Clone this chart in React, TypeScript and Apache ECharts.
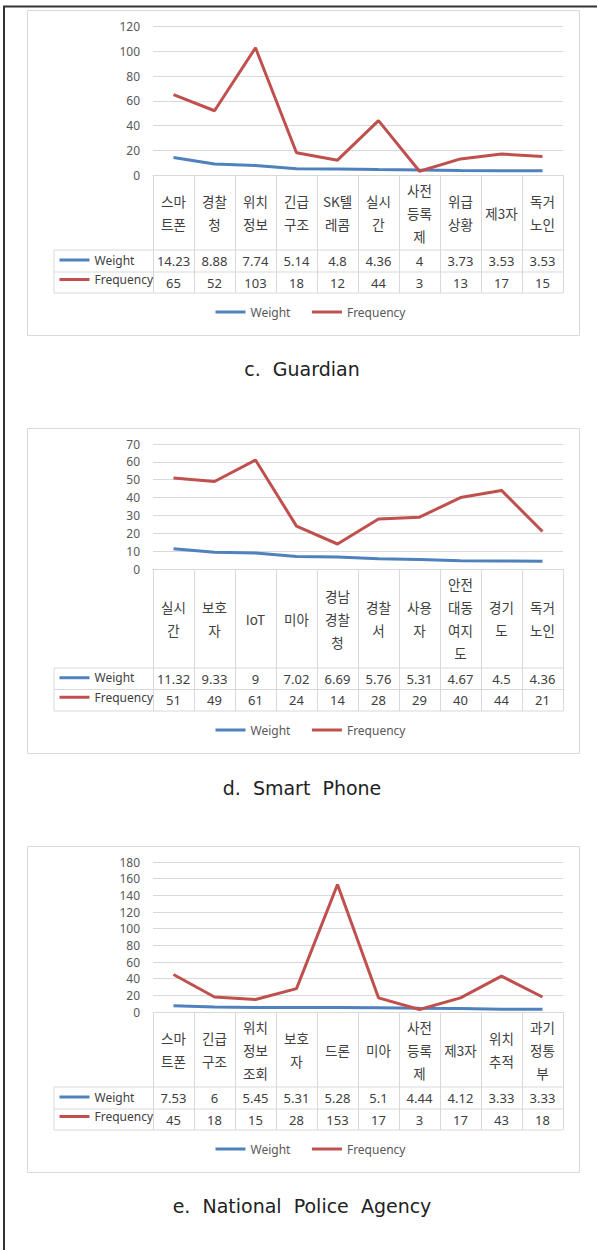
import React, { useEffect, useRef } from "react";
import * as echarts from "echarts";

// ---------- data ----------
const guardianCategories = ["스마트폰", "경찰청", "위치정보", "긴급구조", "SK텔레콤", "실시간", "사전등록제", "위급상황", "제3자", "독거노인"];
const guardianWeight = [14.23, 8.88, 7.74, 5.14, 4.8, 4.36, 4, 3.73, 3.53, 3.53];
const guardianFrequency = [65, 52, 103, 18, 12, 44, 3, 13, 17, 15];

const phoneCategories = ["실시간", "보호자", "IoT", "미아", "경남경찰청", "경찰서", "사용자", "안전대동여지도", "경기도", "독거노인"];
const phoneWeight = [11.32, 9.33, 9, 7.02, 6.69, 5.76, 5.31, 4.67, 4.5, 4.36];
const phoneFrequency = [51, 49, 61, 24, 14, 28, 29, 40, 44, 21];

const policeCategories = ["스마트폰", "긴급구조", "위치정보조회", "보호자", "드론", "미아", "사전등록제", "제3자", "위치추적", "과기정통부"];
const policeWeight = [7.53, 6, 5.45, 5.31, 5.28, 5.1, 4.44, 4.12, 3.33, 3.33];
const policeFrequency = [45, 18, 15, 28, 153, 17, 3, 17, 43, 18];

const yMaxes = [120, 70, 180];
const yIntervals = [20, 10, 20];
const captions = ["c.  Guardian", "d.  Smart  Phone", "e.  National  Police  Agency"];
const seriesNames = ["Weight", "Frequency"];

// ---------- layout ----------
const layouts = [
  { boxTop: 10, boxBottom: 335, gridTop: 26.7, gridBottom: 175, catBottom: 250, wBottom: 272, fBottom: 293, legendY: 313, captionY: 369 },
  { boxTop: 428, boxBottom: 753, gridTop: 444, gridBottom: 569, catBottom: 668, wBottom: 689.5, fBottom: 711, legendY: 731, captionY: 788 },
  { boxTop: 846, boxBottom: 1172, gridTop: 862, gridBottom: 1012, catBottom: 1087, wBottom: 1109, fBottom: 1130, legendY: 1150, captionY: 1206 },
];
const PLOT_LEFT = 153;
const PLOT_RIGHT = 563;
const TABLE_LEFT = 54;
const BLUE = "#4F81BD";
const RED = "#C0504D";
const GRID_COLOR = "#d9d9d9";
const TEXT = "#404040";
const CJK = "'Noto Sans CJK KR', 'Noto Sans', sans-serif";
const LATIN = "'Noto Sans', 'Noto Sans CJK KR', sans-serif";
const CAPTION_FONT = "'DejaVu Sans', 'Noto Sans', sans-serif";

function wrapLabel(s: string): string {
  const maxW = 34;
  const lines: string[] = [];
  let line = "";
  let w = 0;
  for (const ch of s) {
    const cw = /[\u3131-\uD7A3]/.test(ch) ? 13 : 8;
    if (w + cw > maxW && line) {
      lines.push(line);
      line = "";
      w = 0;
    }
    line += ch;
    w += cw;
  }
  lines.push(line);
  return lines.join("\n");
}

export default function App() {
  const ref = useRef<HTMLDivElement>(null);

  useEffect(() => {
    if (!ref.current) return;
    const chart = echarts.init(ref.current, undefined, { renderer: "svg" });

    const panels = [
      { cats: guardianCategories, weight: guardianWeight, freq: guardianFrequency },
      { cats: phoneCategories, weight: phoneWeight, freq: phoneFrequency },
      { cats: policeCategories, weight: policeWeight, freq: policeFrequency },
    ];

    const grid: any[] = [];
    const xAxis: any[] = [];
    const yAxis: any[] = [];
    const series: any[] = [];
    const legend: any[] = [];
    const graphic: any[] = [];

    // outer frame
    graphic.push({ type: "line", shape: { x1: 4, y1: 6, x2: 4, y2: 1250 }, style: { stroke: "#333", lineWidth: 2 } });
    graphic.push({ type: "line", shape: { x1: 3, y1: 6.5, x2: 597, y2: 6.5 }, style: { stroke: "#333", lineWidth: 2 } });

    panels.forEach((p, i) => {
      const L = layouts[i];
      grid.push({ left: PLOT_LEFT, width: PLOT_RIGHT - PLOT_LEFT, top: L.gridTop, height: L.gridBottom - L.gridTop, containLabel: false });

      const catH = L.catBottom - L.gridBottom;
      const wCenter = (L.catBottom + L.wBottom) / 2;
      const fCenter = (L.wBottom + L.fBottom) / 2;

      xAxis.push({
        gridIndex: i,
        type: "category",
        position: "bottom",
        data: p.cats,
        boundaryGap: true,
        axisLine: { show: true, lineStyle: { color: GRID_COLOR, width: 1 } },
        axisTick: { show: true, alignWithLabel: false, interval: 0, length: L.fBottom - L.gridBottom, lineStyle: { color: GRID_COLOR, width: 1 } },
        axisLabel: {
          interval: 0,
          margin: catH / 2,
          verticalAlign: "middle",
          lineHeight: 23,
          fontSize: 13.5,
          fontFamily: CJK,
          color: TEXT,
          formatter: (v: string) => wrapLabel(v),
        },
        splitLine: { show: false },
      });
      xAxis.push({
        gridIndex: i,
        type: "category",
        position: "bottom",
        offset: wCenter - L.gridBottom,
        data: p.weight,
        axisLine: { show: false },
        axisTick: { show: false },
        axisLabel: { interval: 0, margin: 0, verticalAlign: "middle", fontSize: 13, fontFamily: LATIN, color: TEXT },
        splitLine: { show: false },
      });
      xAxis.push({
        gridIndex: i,
        type: "category",
        position: "bottom",
        offset: fCenter - L.gridBottom,
        data: p.freq,
        axisLine: { show: false },
        axisTick: { show: false },
        axisLabel: { interval: 0, margin: 0, verticalAlign: "middle", fontSize: 13, fontFamily: LATIN, color: TEXT },
        splitLine: { show: false },
      });

      yAxis.push({
        gridIndex: i,
        type: "value",
        min: 0,
        max: yMaxes[i],
        interval: yIntervals[i],
        axisLine: { show: false },
        axisTick: { show: false },
        axisLabel: { color: "#595959", fontSize: 12, fontFamily: LATIN, margin: 13 },
        splitLine: { show: true, lineStyle: { color: GRID_COLOR, width: 1 } },
      });

      series.push({
        name: seriesNames[0],
        type: "line",
        xAxisIndex: i * 3,
        yAxisIndex: i,
        data: p.weight,
        symbol: "none",
        showSymbol: false,
        lineStyle: { color: BLUE, width: 3 },
        itemStyle: { color: BLUE },
      });
      series.push({
        name: seriesNames[1],
        type: "line",
        xAxisIndex: i * 3,
        yAxisIndex: i,
        data: p.freq,
        symbol: "none",
        showSymbol: false,
        lineStyle: { color: RED, width: 3 },
        itemStyle: { color: RED },
      });

      // legend keys inside data table
      legend.push({
        orient: "vertical",
        left: 58,
        top: wCenter - 7,
        itemWidth: 30,
        itemHeight: 14,
        itemGap: fCenter - wCenter - 14,
        padding: 0,
        selectedMode: false,
        data: seriesNames,
        itemStyle: { opacity: 0 },
        lineStyle: { width: 3 },
        textStyle: { fontSize: 12, fontFamily: LATIN, color: TEXT },
      });
      // bottom legend
      legend.push({
        orient: "horizontal",
        left: 214,
        top: L.legendY - 7,
        itemWidth: 30,
        itemHeight: 14,
        itemGap: 20,
        padding: 0,
        selectedMode: false,
        data: seriesNames,
        itemStyle: { opacity: 0 },
        lineStyle: { width: 3 },
        textStyle: { fontSize: 12, fontFamily: LATIN, color: "#595959" },
      });

      // panel box
      graphic.push({
        type: "rect",
        shape: { x: 27.5, y: L.boxTop + 0.5, width: 552, height: L.boxBottom - L.boxTop },
        style: { fill: "none", stroke: GRID_COLOR, lineWidth: 1 },
      });
      // table lines
      [L.catBottom, L.wBottom, L.fBottom].forEach((y) => {
        graphic.push({ type: "line", shape: { x1: TABLE_LEFT, y1: y, x2: PLOT_RIGHT, y2: y }, style: { stroke: GRID_COLOR, lineWidth: 1 } });
      });
      graphic.push({ type: "line", shape: { x1: TABLE_LEFT, y1: L.catBottom, x2: TABLE_LEFT, y2: L.fBottom }, style: { stroke: GRID_COLOR, lineWidth: 1 } });
      // caption
      graphic.push({
        type: "text",
        x: 302,
        y: L.captionY,
        style: { text: captions[i], font: `19px ${CAPTION_FONT}`, fill: "#222", align: "center", verticalAlign: "middle" },
      });
    });

    chart.setOption({
      animation: false,
      backgroundColor: "#fff",
      grid,
      xAxis,
      yAxis,
      series,
      legend,
      graphic,
    });

    return () => chart.dispose();
  }, []);

  return <div ref={ref} style={{ position: "absolute", left: 0, top: 0, width: 597, height: 1250 }} />;
}
